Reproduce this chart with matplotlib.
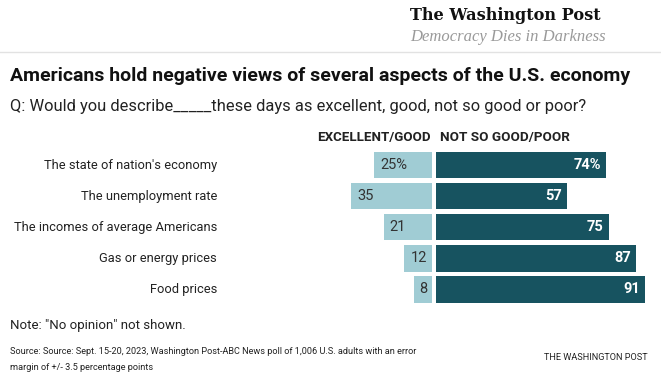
import matplotlib.pyplot as plt
from matplotlib.lines import Line2D

W, H = 661, 387

categories = ["The state of nation's economy", "The unemployment rate",
              "The incomes of average Americans", "Gas or energy prices", "Food prices"]
good = [25, 35, 21, 12, 8]
poor = [74, 57, 75, 87, 91]
good_labels = ["25%", "35", "21", "12", "8"]
poor_labels = ["74%", "57", "75", "87", "91"]

LIGHT = '#a0ccd4'
DARK = '#175360'

plt.rcParams['font.family'] = ['Roboto', 'DejaVu Sans']

PX_PER_PCT = 2.3
CENTER = 432        # pixel where the light bars end
GAP = 4 / PX_PER_PCT

fig = plt.figure(figsize=(W / 100, H / 100), dpi=100)
fig.patch.set_facecolor('white')

def fx(px):
    return px / W

def fy(py):
    return 1 - py / H

# bar area: rows from 149.5 to 304.7 px
top_px, row_h = 149.5, 31.05
ax = fig.add_axes([0, fy(top_px + 5 * row_h), 1, 5 * row_h / H])
ax.set_xlim(-CENTER / PX_PER_PCT, (W - CENTER) / PX_PER_PCT)
ax.set_ylim(4.5, -0.5)
ax.axis('off')

ys = list(range(len(categories)))
ax.barh(ys, [-g for g in good], left=0, height=0.86, color=LIGHT)
ax.barh(ys, poor, left=GAP, height=0.86, color=DARK)

for y, g, p, gl, pl, cat in zip(ys, good, poor, good_labels, poor_labels, categories):
    ax.text(-g + 2.6, y, gl, ha='left', va='center', fontsize=10.5, color='#333333')
    ax.text(GAP + p - 2.2, y, pl, ha='right', va='center', fontsize=10.5,
            color='white', fontweight='bold')
    ax.text(-93.5, y, cat, ha='right', va='center', fontsize=9.25, color='#222222')

# column headers
fig.text(fx(431), fy(138), "EXCELLENT/GOOD", ha='right', va='center',
         fontsize=9.6, fontweight='bold', color='#222222')
fig.text(fx(440), fy(138), "NOT SO GOOD/POOR", ha='left', va='center',
         fontsize=9.7, fontweight='bold', color='#222222')

# masthead
fig.text(fx(410), fy(16), "The Washington Post", ha='left', va='center',
         fontsize=11.6, fontweight='bold', family=['DejaVu Serif'], color='#111111')
fig.text(fx(410), fy(37), "Democracy Dies in Darkness", ha='left', va='center',
         fontsize=12, style='italic', family=['Liberation Serif'], color='#9a9a9a')
fig.add_artist(Line2D([0, 1], [fy(52), fy(52)], color='#e2e2e2', lw=1))

# titles
fig.text(fx(10), fy(76), "Americans hold negative views of several aspects of the U.S. economy",
         ha='left', va='center', fontsize=14, fontweight='bold', color='#111111')
fig.text(fx(10), fy(107), "Q: Would you describe_____these days as excellent, good, not so good or poor?",
         ha='left', va='center', fontsize=11.9, color='#222222')

# footer
fig.text(fx(10), fy(326), 'Note: "No opinion" not shown.', ha='left', va='center',
         fontsize=9.5, color='#222222')
fig.text(fx(10), fy(352), "Source: Source: Sept. 15-20, 2023, Washington Post-ABC News poll of 1,006 U.S. adults with an error",
         ha='left', va='center', fontsize=6.6, color='#222222')
fig.text(fx(10), fy(367), "margin of +/- 3.5 percentage points",
         ha='left', va='center', fontsize=6.6, color='#222222')
fig.text(fx(648), fy(357), "THE WASHINGTON POST", ha='right', va='center',
         fontsize=6.6, color='#222222')

fig.savefig('out.png', dpi=100)
